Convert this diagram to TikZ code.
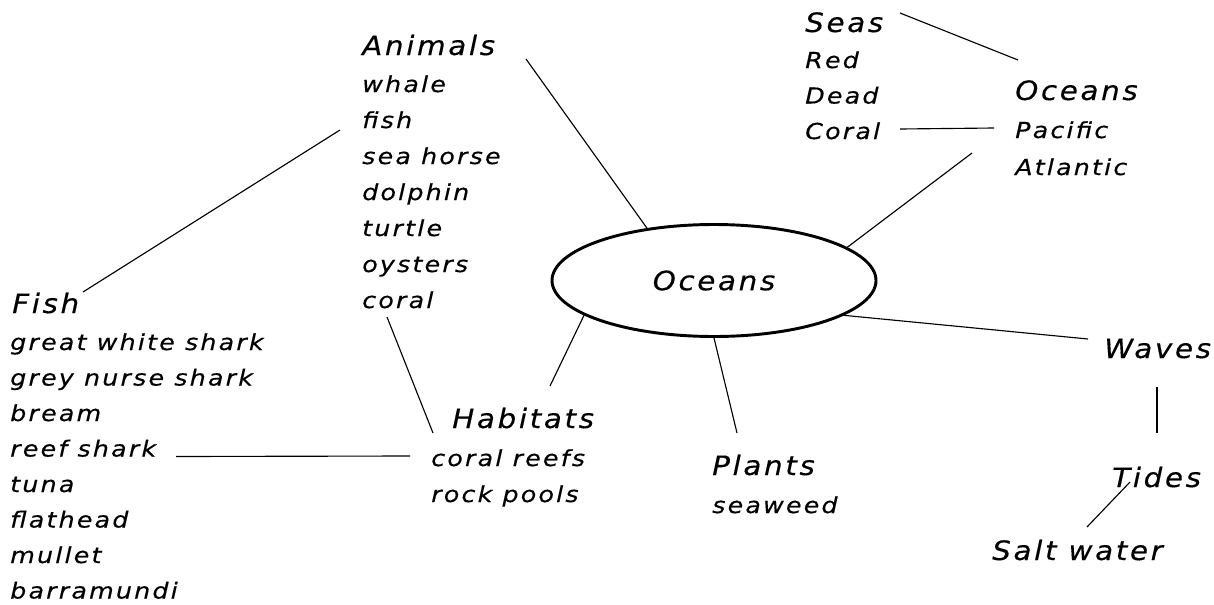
\documentclass[tikz,border=0pt]{standalone}
\usepackage{fontspec}
\setmainfont{DejaVu Sans}
\newfontfamily\headfont{DejaVu Sans}[FakeStretch=1.1, LetterSpace=10, FakeBold=0.4]
\newfontfamily\itemfont{DejaVu Sans}[FakeStretch=1.15, LetterSpace=10, FakeBold=0.4]
\usetikzlibrary{calc, shapes.geometric}

\begin{document}
\begin{tikzpicture}[
  x=0.75pt, y=-0.75pt,
  head/.style={font=\fontsize{20}{24}\headfont\itshape, inner sep=0pt, anchor=base west},
  item/.style={font=\fontsize{16.5}{19}\itemfont\itshape, inner sep=0pt, anchor=base west},
  hub/.style={ellipse, draw, line width=2.2pt, minimum width=243pt, minimum height=84pt,
              inner sep=0pt, font=\fontsize{20}{24}\headfont\itshape},
  link/.style={draw, line width=0.85pt},
]
\useasboundingbox (0,0) rectangle (1214,604);

%% centre
\node[hub] (ocean) at (714,280.5) {Oceans};

%% animals
\node[head] (animals) at (362,55) {Animals};
\node[item] (whale)    at (362,92) {whale};
\node[item] (afish)    at ($(whale.base west)+(0,36)$) {fish};
\node[item] (seahorse) at ($(afish.base west)+(0,36)$) {sea horse};
\node[item] (dolphin)  at ($(seahorse.base west)+(0,36)$) {dolphin};
\node[item] (turtle)   at ($(dolphin.base west)+(0,36)$) {turtle};
\node[item] (oysters)  at ($(turtle.base west)+(0,36)$) {oysters};
\node[item] (acoral)   at ($(oysters.base west)+(0,36)$) {coral};

%% fish
\node[head] (fish) at (12,313) {Fish};
\node[item] (gwshark)   at (10,350) {great white shark};
\node[item] (gnshark)   at ($(gwshark.base west)+(0,35.5)$) {grey nurse shark};
\node[item] (bream)     at ($(gnshark.base west)+(0,35.5)$) {bream};
\node[item] (reefshark) at ($(bream.base west)+(0,35.5)$) {reef shark};
\node[item] (tuna)      at ($(reefshark.base west)+(0,35.5)$) {tuna};
\node[item] (flathead)  at ($(tuna.base west)+(0,35.5)$) {flathead};
\node[item] (mullet)    at ($(flathead.base west)+(0,35.5)$) {mullet};
\node[item] (barra)     at ($(mullet.base west)+(0,35.5)$) {barramundi};

%% habitats + plants
\node[head] (habitats) at (452,428) {Habitats};
\node[item] (reefs)    at (431,466) {coral reefs};
\node[item] (pools)    at ($(reefs.base west)+(0,36)$) {rock pools};
\node[head] (plants)   at (712,475) {Plants};
\node[item] (seaweed)  at (712,513) {seaweed};

%% seas + oceans
\node[head] (seas)     at (805,32) {Seas};
\node[item] (red)      at (805,68) {Red};
\node[item] (dead)     at ($(red.base west)+(0,35.5)$) {Dead};
\node[item] (scoral)   at ($(dead.base west)+(0,35.5)$) {Coral};
\node[head] (oceans)   at (1015,100) {Oceans};
\node[item] (pacific)  at (1015,138) {Pacific};
\node[item] (atlantic) at ($(pacific.base west)+(0,37)$) {Atlantic};

%% waves, tides, salt water
\node[head] (waves) at (1104,358) {Waves};
\node[head] (tides) at (1112,487) {Tides};
\node[head] (salt)  at (992,560) {Salt water};

\draw[link] ($(animals.base west)+(164,4)$) -- (ocean.142);
\draw[link] ($(fish.base west)+(71,-21)$) -- ($(afish.base west)+(-22,2)$);
\draw[link] ($(acoral.base west)+(25,9)$) -- ($(habitats.base west)+(-19,5)$);
\draw[link] ($(reefshark.base west)+(166,0)$) -- ($(reefs.base west)+(-21,-10)$);
\draw[link] ($(habitats.base west)+(98,-42)$) -- (ocean.195);
\draw[link] ($(plants.base west)+(25,-42)$) -- (ocean.270);
\draw[link] (ocean.14) -- ($(pacific.base west)+(-43,15)$);
\draw[link] ($(seas.base west)+(95,-19)$) -- ($(oceans.base west)+(3,-40)$);
\draw[link] ($(scoral.base west)+(95,-10)$) -- ($(pacific.base west)+(-21,-10)$);
\draw[link] (ocean.345) -- ($(waves.base west)+(-16,-19)$);
\draw[link] ($(waves.base west)+(53,29)$) -- ($(tides.base west)+(45,-54)$);
\draw[link] ($(tides.base west)+(18,-5)$) -- ($(salt.base west)+(95,-33)$);
\end{tikzpicture}
\end{document}
